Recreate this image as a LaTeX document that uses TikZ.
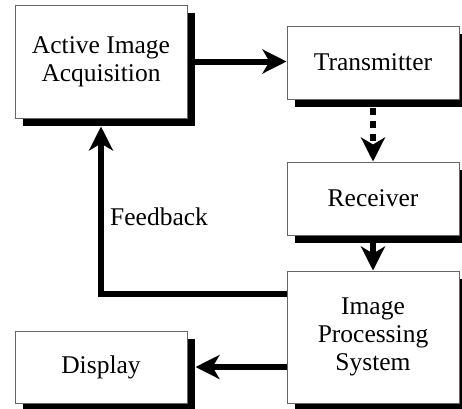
\documentclass[tikz,border=0pt]{standalone}
\usepackage{fontspec}
\setmainfont{Liberation Serif}
\usetikzlibrary{arrows.meta,shadows}
\begin{document}
\begin{tikzpicture}[x=1pt,y=-1pt,
  blk/.style={draw=gray!80!black,line width=1pt,fill=white,inner sep=0pt,align=center,
    font=\fontsize{25.5}{28}\selectfont,
    drop shadow={shadow xshift=8pt,shadow yshift=-8pt,opacity=1,fill=black}},
  conn/.style={line width=6pt,-{Stealth[length=24pt,width=24pt,inset=7pt]}},
  lbl/.style={font=\fontsize{25.5}{28}\selectfont,inner sep=0pt}
]
\useasboundingbox (0,0) rectangle (462,408);
\node[blk,minimum width=172pt,minimum height=113pt] (acq) at (101,61.5) {Active Image\\Acquisition};
\node[blk,minimum width=172pt,minimum height=73pt] (tx) at (373,62.5) {Transmitter};
\node[blk,minimum width=172pt,minimum height=73pt] (rx) at (373,198.5) {Receiver};
\node[blk,minimum width=172pt,minimum height=132pt] (ips) at (373,337) {Image\\Processing\\System};
\node[blk,minimum width=172pt,minimum height=72pt] (disp) at (101,367) {Display};
\node[lbl,anchor=base west] (fbl) at (110,225) {Feedback};
\draw[conn] (acq.east) -- (acq.east -| tx.west);
\draw[conn,dash pattern=on 7pt off 6pt,shorten <=8pt] (tx.south) -- (rx.north);
\draw[conn] (rx.south) -- (ips.north);
\draw[conn,shorten >=8pt] ([yshift=-23pt]ips.north west) -| (acq.south);
\draw[conn,shorten >=8pt] (ips.west |- disp.east) -- (disp.east);
\end{tikzpicture}
\end{document}
